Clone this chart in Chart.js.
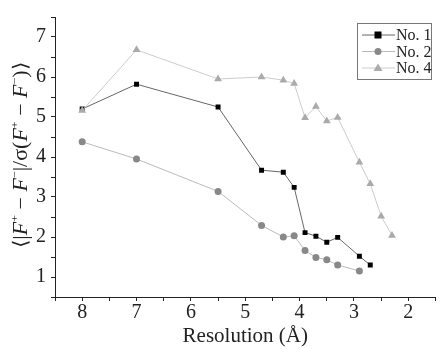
<!DOCTYPE html>
<html>
<head>
<meta charset="utf-8">
<script src="https://cdn.jsdelivr.net/npm/chart.js@4.4.0/dist/chart.umd.min.js"></script>
<style>
  html, body { margin: 0; padding: 0; background: #fff; }
  #wrap { width: 440px; height: 349px; }
</style>
</head>
<body>
<div id="wrap"><canvas id="resChart" width="440" height="349"></canvas></div>
<script>
// resolution (Å) and <|F+ - F-|/sigma> per sample
const res1 = [8, 7, 5.5, 4.7, 4.3, 4.1, 3.9, 3.7, 3.5, 3.3, 2.9, 2.7];
const no1 = [5.2, 5.82, 5.25, 3.67, 3.62, 3.24, 2.11, 2.02, 1.87, 1.99, 1.52, 1.3];
const res2 = [8, 7, 5.5, 4.7, 4.3, 4.1, 3.9, 3.7, 3.5, 3.3, 2.9];
const no2 = [4.38, 3.95, 3.14, 2.29, 2.0, 2.03, 1.66, 1.49, 1.43, 1.3, 1.15];
const res4 = [8, 7, 5.5, 4.7, 4.3, 4.1, 3.9, 3.7, 3.5, 3.3, 2.9, 2.7, 2.5, 2.3];
const no4 = [5.16, 6.68, 5.95, 6.0, 5.92, 5.84, 4.98, 5.26, 4.9, 4.99, 3.87, 3.33, 2.52, 2.04];
const seriesNames = ['No. 1', 'No. 2', 'No. 4'];

const serif = '"Liberation Serif", "Times New Roman", serif';
const pts = (xs, ys) => xs.map((x, i) => ({ x: x, y: ys[i] }));

// legend with a frame, line through marker
const boxLegend = {
  id: 'boxLegend',
  afterDraw(chart) {
    const c = chart.ctx;
    const x0 = 357, y0 = 23, w = 74, h = 56;
    c.save();
    c.strokeStyle = '#777';
    c.lineWidth = 1;
    c.strokeRect(x0 + 0.5, y0 + 0.5, w, h);
    chart.data.datasets.forEach((ds, i) => {
      const y = y0 + 12 + i * 16.5;
      c.strokeStyle = ds.borderColor;
      c.lineWidth = 1;
      c.beginPath();
      c.moveTo(x0 + 5, y);
      c.lineTo(x0 + 38, y);
      c.stroke();
      c.fillStyle = ds.pointBackgroundColor;
      const mx = x0 + 21;
      if (ds.pointStyle === 'rect') {
        c.fillRect(mx - 3.5, y - 3.5, 7, 7);
      } else if (ds.pointStyle === 'circle') {
        c.beginPath(); c.arc(mx, y, 3.5, 0, Math.PI * 2); c.fill();
      } else {
        c.beginPath();
        c.moveTo(mx, y - 4.5); c.lineTo(mx + 4.5, y + 3); c.lineTo(mx - 4.5, y + 3);
        c.closePath(); c.fill();
      }
      c.fillStyle = '#222';
      c.font = '16px ' + serif;
      c.textBaseline = 'middle';
      c.fillText(ds.label, x0 + 39, y + 1);
    });
    c.restore();
  }
};

// rotated y title with italic F and superscripts
const yTitle = {
  id: 'yTitle',
  afterDraw(chart) {
    const c = chart.ctx;
    const parts = [
      ['⟨|', 0], ['F', 1], ['+', 2], [' − ', 0], ['F', 1], ['−', 2],
      ['|/σ(', 0], ['F', 1], ['+', 2], [' − ', 0], ['F', 1], ['−', 2], [')⟩', 0]
    ];
    const fnt = k => k === 1 ? 'italic 20px ' + serif : (k === 2 ? '11px ' + serif : '20px ' + serif);
    c.save();
    let total = 0;
    parts.forEach(p => { c.font = fnt(p[1]); total += c.measureText(p[0]).width; });
    const k = Math.min(1.1, Math.max(0.85, 190 / total));
    c.translate(27, 155);
    c.rotate(-Math.PI / 2);
    c.scale(k, 1);
    c.fillStyle = '#222';
    c.textBaseline = 'alphabetic';
    let x = -total / 2;
    parts.forEach(p => {
      c.font = fnt(p[1]);
      c.fillText(p[0], x, p[1] === 2 ? -9 : 0);
      x += c.measureText(p[0]).width;
    });
    c.restore();
  }
};

const ctx = document.getElementById('resChart');

new Chart(ctx, {
  type: 'line',
  data: {
    datasets: [{
      label: seriesNames[0],
      data: pts(res1, no1),
      borderColor: '#666',
      borderWidth: 1,
      pointStyle: 'rect',
      pointRadius: 3.5,
      pointBackgroundColor: '#000',
      pointBorderColor: '#000',
      pointBorderWidth: 0,
      order: 2
    },
    {
      label: seriesNames[1],
      data: pts(res2, no2),
      borderColor: '#bbb',
      borderWidth: 1,
      pointStyle: 'circle',
      pointRadius: 3.5,
      pointBackgroundColor: '#888',
      pointBorderColor: '#888',
      pointBorderWidth: 0,
      order: 1
    },
    {
      label: seriesNames[2],
      data: pts(res4, no4),
      borderColor: '#ccc',
      borderWidth: 1,
      pointStyle: 'triangle',
      pointRadius: 4.5,
      pointBackgroundColor: '#aaa',
      pointBorderColor: '#aaa',
      pointBorderWidth: 0,
      order: 0
    }]
  },
  options: {
    responsive: false,
    animation: false,
    layout: { padding: { top: 15, right: 0, left: 0, bottom: 0 } },
    plugins: { legend: { display: false }, tooltip: { enabled: false } },
    scales: {
      x: {
        type: 'linear',
        reverse: true,
        min: 1.5,
        max: 8.5,
        afterFit: s => { s.height = 52; },
        border: { color: '#222', width: 1 },
        grid: { drawOnChartArea: false, tickLength: 4, tickColor: '#222' },
        ticks: {
          stepSize: 0.5,
          autoSkip: false,
          maxRotation: 0,
          padding: 0,
          color: '#222',
          font: { family: serif, size: 20 },
          callback: v => Number.isInteger(v) ? v : ''
        },
        title: {
          display: true,
          text: 'Resolution (Å)',
          color: '#222',
          font: { family: serif, size: 21 },
          padding: { top: 0, bottom: 0 }
        }
      },
      y: {
        min: 0.5,
        max: 7.5,
        afterFit: s => { s.width = 55; },
        border: { color: '#222', width: 1 },
        grid: { drawOnChartArea: false, tickLength: 4, tickColor: '#222' },
        ticks: {
          stepSize: 0.5,
          autoSkip: false,
          padding: 5,
          color: '#222',
          font: { family: serif, size: 20 },
          callback: v => Number.isInteger(v) ? v : ''
        }
      }
    }
  },
  plugins: [boxLegend, yTitle]
});
</script>
</body>
</html>
